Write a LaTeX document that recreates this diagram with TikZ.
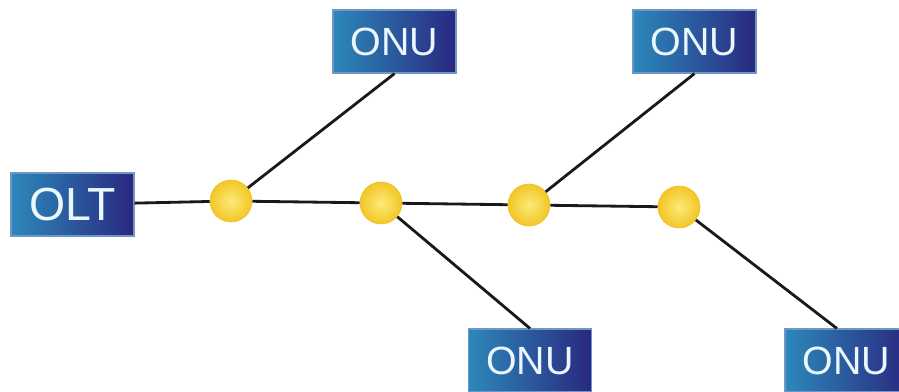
\documentclass[tikz,border=0pt]{standalone}
\usepackage{fontspec}
\setmainfont{Liberation Sans}
\usetikzlibrary{positioning}
\definecolor{unitleft}{RGB}{44,136,186}
\definecolor{unitright}{RGB}{42,40,128}
\definecolor{unitedge}{RGB}{112,150,196}
\definecolor{unittext}{RGB}{234,247,255}
\definecolor{splitin}{RGB}{253,234,120}
\definecolor{splitout}{RGB}{242,198,38}
\definecolor{fibre}{RGB}{25,25,25}

\begin{document}
\begin{tikzpicture}[x=0.025cm, y=0.025cm,
    unit/.style={draw=unitedge, line width=0.8pt, left color=unitleft, right color=unitright, text=unittext, minimum width=3.075cm, minimum height=1.575cm, inner sep=0pt, font=\fontsize{28}{28}\selectfont},
    splitter/.style={circle, draw=splitout!85!orange, line width=0.4pt, inner color=splitin, outer color=splitout, minimum size=1.05cm, inner sep=0pt},
    fibreline/.style={draw=fibre, line width=2pt}]
  \useasboundingbox (0,0) rectangle (899,391);
  \node[unit, font=\fontsize{33}{33}\selectfont] (olt) at (72.5,186.5) {OLT};
  \node[splitter] (s1) at (231,190) {};
  \node[splitter] (s2) at (381,188) {};
  \node[splitter] (s3) at (529,186) {};
  \node[splitter] (s4) at (679,184) {};
  \node[unit] (onu1) at (394.5,349.5) {ONU};
  \node[unit] (onu2) at (694.5,349.5) {ONU};
  \node[unit] (onu3) at (530,30.5) {ONU};
  \node[unit] (onu4) at (846.5,30.5) {ONU};
  \draw[fibreline] (olt) -- (s1);
  \draw[fibreline] (s1) -- (s2);
  \draw[fibreline] (s2) -- (s3);
  \draw[fibreline] (s3) -- (s4);
  \draw[fibreline] (s1) -- (onu1.south);
  \draw[fibreline] (s3) -- (onu2.south);
  \draw[fibreline] (s2) -- (onu3.north);
  \draw[fibreline] (s4) -- ([xshift=-0.24cm]onu4.north);
\end{tikzpicture}
\end{document}
